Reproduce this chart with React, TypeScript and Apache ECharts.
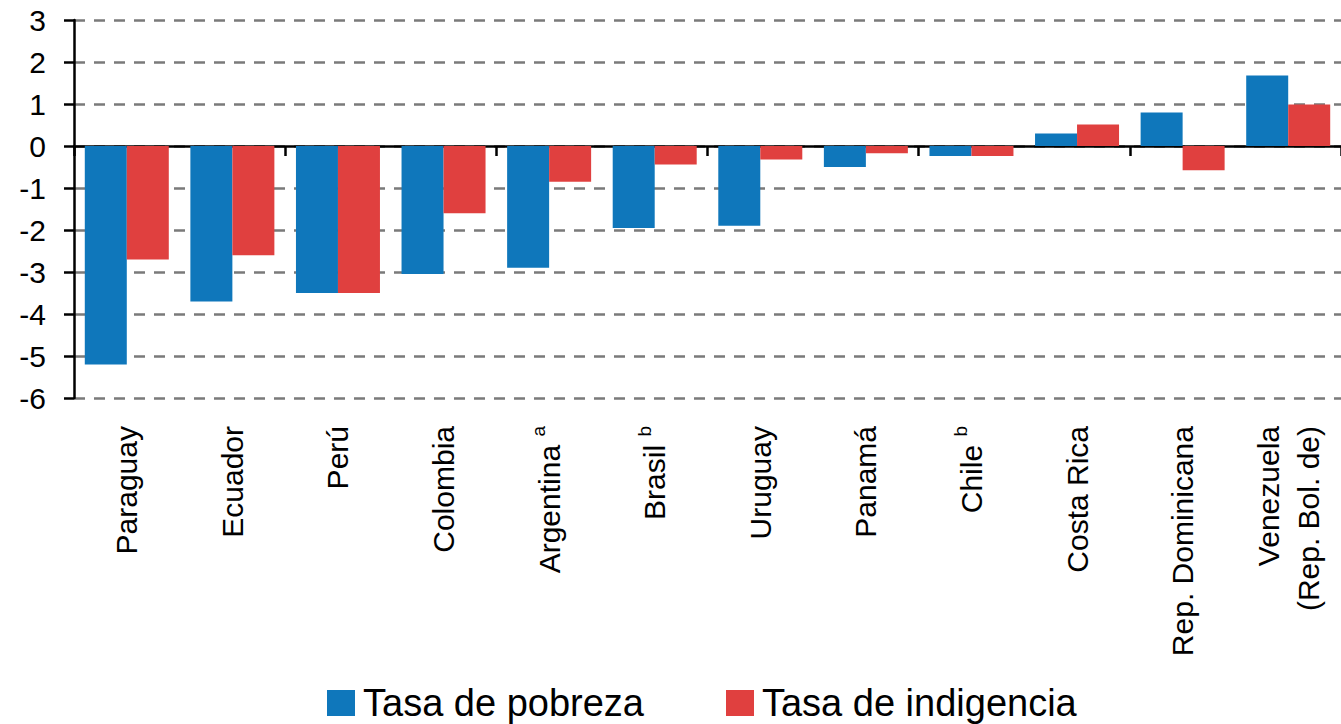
import React, { useEffect, useRef } from "react";
import * as echarts from "echarts";

const categories = [
  "Paraguay",
  "Ecuador",
  "Perú",
  "Colombia",
  "Argentina",
  "Brasil",
  "Uruguay",
  "Panamá",
  "Chile",
  "Costa Rica",
  "Rep. Dominicana",
  "Venezuela\n(Rep. Bol. de)",
];
const notes = ["", "", "", "", "a", "b", "", "", "b", "", "", ""];
const pobreza = [-5.2, -3.7, -3.5, -3.05, -2.9, -1.95, -1.9, -0.5, -0.24, 0.3, 0.8, 1.68];
const indigencia = [-2.7, -2.6, -3.5, -1.6, -0.85, -0.44, -0.32, -0.17, -0.24, 0.51, -0.58, 0.99];
const seriesNames = ["Tasa de pobreza", "Tasa de indigencia"];

const FONT = "'Liberation Sans', Arial, Helvetica, sans-serif";

export default function App() {
  const ref = useRef<HTMLDivElement>(null);
  useEffect(() => {
    if (!ref.current) return;
    const chart = echarts.init(ref.current, undefined, { renderer: "svg" });
    chart.setOption({
      animation: false,
      backgroundColor: "#ffffff",
      textStyle: { fontFamily: FONT },
      grid: { left: 74, right: -11, top: 20, bottom: 326, containLabel: false },
      legend: {
        left: 322,
        top: 679,
        padding: 5,
        icon: "rect",
        itemWidth: 28,
        itemHeight: 26,
        itemGap: 82,
        textStyle: { fontSize: 38, color: "#000", fontFamily: FONT, padding: [0, 0, 0, 3] },
        data: seriesNames,
      },
      xAxis: [
        {
          type: "category",
          data: categories,
          position: "bottom",
          axisLine: { show: true, onZero: true, lineStyle: { color: "#000", width: 2.5 } },
          axisTick: { show: true, length: 10, lineStyle: { color: "#000", width: 2.5 } },
          axisLabel: { show: false },
          splitLine: { show: false },
        },
        {
          type: "category",
          data: categories,
          position: "bottom",
          axisLine: { show: false, onZero: false },
          axisTick: { show: false },
          splitLine: { show: false },
          axisLabel: {
            show: true,
            interval: 0,
            rotate: 90,
            margin: 28,
            fontSize: 30,
            lineHeight: 40,
            color: "#000",
            fontFamily: FONT,
            formatter: (v: string, i: number) =>
              notes[i] ? `${v} {sup|${notes[i]}}` : v,
            rich: {
              sup: { fontSize: 19, verticalAlign: "top", lineHeight: 24, color: "#000", fontFamily: FONT },
            },
          },
        },
      ],
      yAxis: {
        type: "value",
        min: -6,
        max: 3,
        interval: 1,
        axisLine: { show: true, lineStyle: { color: "#000", width: 2.5 } },
        axisTick: { show: true, length: 10, lineStyle: { color: "#000", width: 2.5 } },
        axisLabel: { fontSize: 30, color: "#000", margin: 28, fontFamily: FONT },
        splitLine: {
          show: true,
          lineStyle: { color: "#7a7a7a", width: 2.5, type: [11, 9] },
        },
      },
      series: [
        {
          name: seriesNames[0],
          type: "bar",
          xAxisIndex: 0,
          data: pobreza,
          barWidth: 42,
          barGap: "0%",
          itemStyle: { color: "#0f77bb" },
        },
        {
          name: seriesNames[1],
          type: "bar",
          xAxisIndex: 0,
          data: indigencia,
          barWidth: 42,
          barGap: "0%",
          itemStyle: { color: "#e0403f" },
        },
      ],
    });
    return () => chart.dispose();
  }, []);
  return (
    <div
      ref={ref}
      style={{ position: "fixed", left: 0, top: 0, width: 1341, height: 724, background: "#fff" }}
    />
  );
}
